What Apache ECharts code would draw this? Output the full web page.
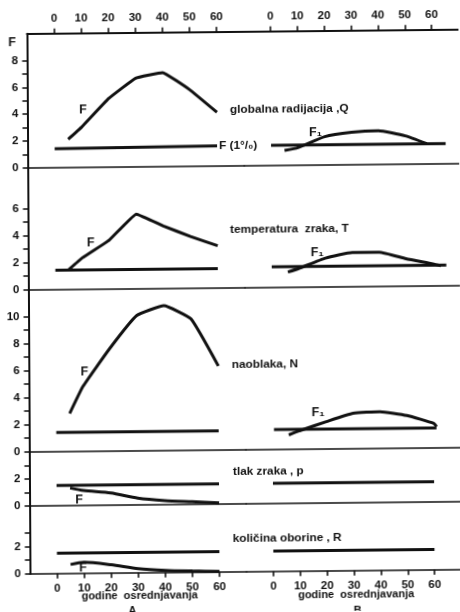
<!DOCTYPE html>
<html><head><meta charset="utf-8">
<script src="https://cdn.jsdelivr.net/npm/echarts@6/dist/echarts.min.js"></script>
<style>
html,body{margin:0;padding:0;background:#fff;overflow:hidden;}
#c{width:460px;height:612px;transform:matrix(1,-0.01,0.0056,1,0,0);transform-origin:230px 306px;}
</style></head><body><div id="c"></div>
<script>
// ---- data ----
const xTickLabels = [0, 10, 20, 30, 40, 50, 60];
const panelNames = ['globalna radijacija ,Q', 'temperatura  zraka, T', 'naoblaka, N', 'tlak zraka , p', 'količina oborine , R'];
const panelYMax = [10, 9, 12, 4, 5];
const panelYLabels = [[0, 2, 4, 6, 8], [0, 2, 4, 6], [0, 2, 4, 6, 8, 10], [0, 2], [0, 2]];
const panelYTicks = [[0, 1, 2, 3, 4, 5, 6, 7, 8], [0, 1, 2, 3, 4, 5, 6], [0, 1, 2, 3, 4, 5, 6, 7, 8, 9, 10], [0, 1, 2, 3], [0, 1, 2, 3]];

// side A: F curves (years of averaging)
const yearsA = [5, 10, 20, 30, 40, 50, 60];
const F_Q_A = [2.1, 3.0, 5.1, 6.6, 7.0, 5.7, 4.0];
const F_T_A = [1.45, 2.3, 3.6, 5.5, 4.6, 3.8, 3.1];
const F_N_A = [2.8, 4.8, 7.6, 10.0, 10.7, 9.7, 6.2];
const F_p_A = [1.3, 1.1, 0.9, 0.5, 0.3, 0.2, 0.1];
const F_R_A = [0.65, 0.8, 0.6, 0.3, 0.15, 0.08, 0.03];
// side A: F (1 per mille) reference lines
const refA_x = [0, 60];
const ref_Q_A = [1.4, 1.5];
const ref_T_A = [1.4, 1.4];
const ref_N_A = [1.4, 1.4];
const ref_p_A = [1.5, 1.5];
const ref_R_A = [1.5, 1.5];

// side B: F1 curves
const F1_Q_B_x = [5, 10, 20, 30, 40, 50, 58];
const F1_Q_B = [1.1, 1.3, 2.1, 2.4, 2.5, 2.1, 1.5];
const F1_T_B_x = [6, 10, 20, 30, 40, 50, 60, 63];
const F1_T_B = [1.1, 1.35, 2.1, 2.5, 2.5, 2.0, 1.6, 1.45];
const F1_N_B_x = [6, 10, 20, 30, 40, 50, 60, 61];
const F1_N_B = [1.05, 1.35, 2.0, 2.6, 2.7, 2.4, 1.8, 1.55];
// side B: reference lines
const ref_Q_B_x = [0, 65], ref_Q_B = [1.5, 1.5];
const ref_T_B_x = [0, 65], ref_T_B = [1.5, 1.5];
const ref_N_B_x = [0.5, 61], ref_N_B = [1.45, 1.45];
const ref_p_B_x = [0, 60], ref_p_B = [1.5, 1.5];
const ref_R_B_x = [0, 60], ref_R_B = [1.5, 1.5];

// ---- layout ----
const INK = '#111';
const FONT = 'Liberation Sans';
const tops = [31.7, 165.8, 287.5, 449.7, 504];
const bottoms = [165.8, 287.5, 449.7, 504, 571.7];
const sideLeft = [28.5, 245.1];
const sideWidth = [216.6, 217];

const grids = [], xAxes = [], yAxes = [], series = [];
for (let s = 0; s < 2; s++) {
  for (let p = 0; p < 5; p++) {
    const g = s * 5 + p;
    grids.push({ left: sideLeft[s], width: sideWidth[s], top: tops[p], height: bottoms[p] - tops[p] });
    const last = p === 4;
    xAxes.push({
      type: 'value', gridIndex: g, min: -10, max: 70, position: 'bottom',
      axisLine: { show: true, onZero: false, lineStyle: { color: INK, width: 1.6 } },
      axisTick: { show: last, customValues: xTickLabels, length: 5, lineStyle: { color: INK, width: 1.6 } },
      axisLabel: { show: last, customValues: xTickLabels, margin: 9, color: INK, fontSize: 11.5, fontWeight: 'bold', fontFamily: FONT },
      splitLine: { show: false }
    });
    yAxes.push({
      type: 'value', gridIndex: g, min: 0, max: panelYMax[p], show: s === 0,
      axisLine: { show: true, onZero: false, lineStyle: { color: INK, width: 2 } },
      axisTick: { show: true, customValues: panelYTicks[p], length: 5, lineStyle: { color: INK, width: 1.5 } },
      axisLabel: { show: true, customValues: panelYLabels[p], margin: 9, color: INK, fontSize: 11.5, fontWeight: 'bold', fontFamily: FONT },
      splitLine: { show: false }
    });
  }
}
// top axes for panel 1 on both sides
[0, 5].forEach(g => {
  xAxes.push({
    type: 'value', gridIndex: g, min: -10, max: 70, position: 'top',
    axisLine: { show: true, onZero: false, lineStyle: { color: INK, width: 2 } },
    axisTick: { show: true, customValues: xTickLabels, length: 5, lineStyle: { color: INK, width: 1.6 } },
    axisLabel: { show: true, customValues: xTickLabels, margin: 9, color: INK, fontSize: 11.5, fontWeight: 'bold', fontFamily: FONT },
    splitLine: { show: false }
  });
});

function addLine(g, xs, ys, smooth) {
  series.push({
    type: 'line', xAxisIndex: g, yAxisIndex: g, symbol: 'none', smooth: smooth || false,
    lineStyle: { color: INK, width: 3 }, data: xs.map((x, i) => [x, ys[i]]), silent: true
  });
}
addLine(0, yearsA, F_Q_A, 0.08);  addLine(0, refA_x, ref_Q_A);
addLine(1, yearsA, F_T_A, 0.08);  addLine(1, refA_x, ref_T_A);
addLine(2, yearsA, F_N_A, 0.12);  addLine(2, refA_x, ref_N_A);
addLine(3, yearsA, F_p_A, 0.25);  addLine(3, refA_x, ref_p_A);
addLine(4, yearsA, F_R_A, 0.25);  addLine(4, refA_x, ref_R_A);
addLine(5, F1_Q_B_x, F1_Q_B, 0.15); addLine(5, ref_Q_B_x, ref_Q_B);
addLine(6, F1_T_B_x, F1_T_B, 0.15); addLine(6, ref_T_B_x, ref_T_B);
addLine(7, F1_N_B_x, F1_N_B, 0.15); addLine(7, ref_N_B_x, ref_N_B);
addLine(8, ref_p_B_x, ref_p_B);
addLine(9, ref_R_B_x, ref_R_B);

function txt(text, x, y, size, align, vAlign) {
  return { type: 'text', x: x, y: y, silent: true,
    style: { text: text, fill: INK, font: 'bold ' + size + 'px "' + FONT + '"', textAlign: align || 'left', textVerticalAlign: vAlign || 'middle' } };
}
const graphics = [
  txt('F', 13.5, 41, 12.5, 'center'),
  txt('F', 84, 108.5, 12.5, 'center'),
  txt(panelNames[0], 231, 110, 11.8),
  txt('F (1°/₀)', 220, 146, 11.8),
  txt('F₁', 310, 133.3, 12.5),
  txt('F', 91, 241.6, 12.5, 'center'),
  txt(panelNames[1], 230.5, 230, 11.8),
  txt('F₁', 311, 253.6, 12.5),
  txt('F', 84, 371, 12.5, 'center'),
  txt(panelNames[2], 231.5, 365, 11.8),
  txt('F₁', 311, 413.6, 12.5),
  txt('F', 78, 498.5, 12.5, 'center'),
  txt(panelNames[3], 232, 471.5, 11.8),
  txt('F', 81.5, 566.8, 12.5, 'center'),
  txt(panelNames[4], 231.5, 539, 11.8),
  txt('godine  osrednjavanja', 138, 594.5, 11, 'center'),
  txt('godine  osrednjavanja', 354.5, 596, 11, 'center'),
  txt('A', 130.6, 604.5, 11, 'center', 'top'),
  txt('B', 356, 606.5, 11, 'center', 'top')
];

const chart = echarts.init(document.getElementById('c'), null, { renderer: 'canvas' });
chart.setOption({
  backgroundColor: '#fff', animation: false,
  grid: grids, xAxis: xAxes, yAxis: yAxes, series: series, graphic: graphics
});
</script></body></html>
